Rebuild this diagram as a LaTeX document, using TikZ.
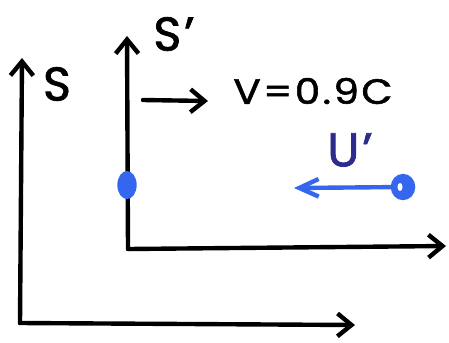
\documentclass[tikz,border=0pt]{standalone}
\usepackage{fontspec}
\setsansfont{Poppins}[FakeBold=1.5, LetterSpace=6]
\usepackage{tikz}
\usetikzlibrary{arrows.meta, shapes.geometric}
\definecolor{penblue}{RGB}{52,102,238}
\definecolor{inkblue}{RGB}{44,44,140}
\tikzset{every node/.append style={font=\sffamily\fontsize{27}{30}\selectfont}}
\tikzset{
  pen/.style={line width=2.5pt, line cap=round, line join=round},
  axis/.style={pen, -{Straight Barb[length=8pt, width=13pt]}},
  blob/.style={ellipse, fill=penblue, inner sep=0pt, minimum width=11pt, minimum height=16pt},
}

\begin{document}
\begin{tikzpicture}[x=0.02cm, y=-0.02cm]
    \useasboundingbox (0,0) rectangle (449,342);
    % frame S
    \coordinate (S-origin) at (20,323);
    \coordinate (S-top) at (22,58);
    \coordinate (S-right) at (355,325);
    \draw[axis] (S-origin) -- (S-top);
    \draw[axis] (S-origin) -- (S-right);
    \node (S-label) at (57,84) {S};
    % frame S'
    \coordinate (Sp-origin) at (128,249);
    \coordinate (Sp-top) at (127,36);
    \coordinate (Sp-right) at (446,246);
    \draw[axis] (Sp-origin) -- (Sp-top);
    \draw[axis] (Sp-origin) -- (Sp-right);
    \node (Sp-label) at (174,34) {S'};
    % velocity of S'
    \coordinate (v-tail) at (143,100);
    \coordinate (v-tip) at (208,101);
    \draw[axis] (v-tail) -- (v-tip);
    \node[font=\sffamily\fontsize{20}{24}\selectfont, xscale=1.15, transform shape] (v-label) at (313,91) {V=0.9C};
    % objects
    \node[blob] (source) at (127,185) {};
    \node[blob, minimum width=14pt, minimum height=15pt] (particle) at (403,187) {};
    \fill[white] (400,187) ellipse (2.5 and 4);
    \coordinate (u-tip) at (294,188);
    \draw[pen, penblue, -{Straight Barb[length=11pt, width=10pt]}] (particle) -- (u-tip);
    \node[text=inkblue] (u-label) at (350,150) {U'};
\end{tikzpicture}
\end{document}
